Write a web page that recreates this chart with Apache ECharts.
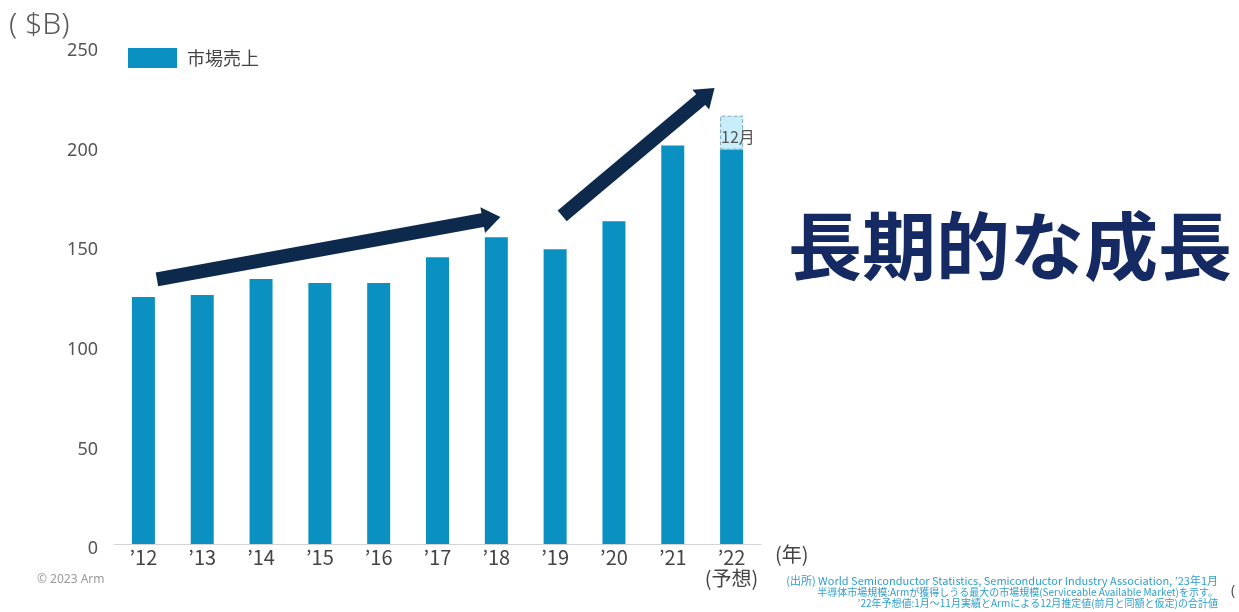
<!DOCTYPE html>
<html>
<head>
<meta charset="utf-8">
<script src="https://cdn.jsdelivr.net/npm/echarts@6/dist/echarts.min.js"></script>
<style>
  html, body { margin: 0; padding: 0; background: #ffffff; }
  #chart { width: 1239px; height: 612px; }
</style>
</head>
<body>
<div id="chart"></div>
<script>
// Semiconductor market size by year ($B)
const years = ['’12', '’13', '’14', '’15', '’16', '’17', '’18', '’19', '’20', '’21', '’22'];
const forecastTag = '(予想)';
const marketSales = [124, 125, 133, 131, 131, 144, 154, 148, 162, 200, 198];
// December estimate stacked on top of the 2022 Jan–Nov actuals
const decemberEstimate = [null, null, null, null, null, null, null, null, null, null, 17];
const yMax = 250;
const yStep = 50;

// Trend arrows, given as [category index, value] pairs
const trendArrows = [
  { from: [0.23, 132.8], to: [6.07, 164.2] },
  { from: [7.12, 164.7], to: [9.71, 228.9] }
];

const FONT = '"Noto Sans", "Noto Sans CJK JP", sans-serif';
const JP_FONT = '"Noto Sans CJK JP", "Noto Sans", sans-serif';
const BAR = '#0b90c2';
const NAVY = '#0d2a4d';
const FOOT = '#2f9fcc';

const chart = echarts.init(document.getElementById('chart'), null, { renderer: 'canvas' });

const categories = years.map((y, i) => i === years.length - 1 ? y + '\n' + forecastTag : y);

const staticGraphics = [
  { type: 'text', x: 9, y: 25,
    style: { text: '( $B)', font: '300 30px ' + FONT, fill: '#5a5a5a', verticalAlign: 'middle' } },
  { type: 'text', left: 775, top: 544,
    style: { text: '(年)', font: '20px ' + JP_FONT, fill: '#444444' } },
  { type: 'text', x: 37, y: 580,
    style: { text: '© 2023 Arm', font: '12px ' + FONT, fill: '#9a9a9a', verticalAlign: 'middle' } },
  { type: 'text', x: 1010, y: 246,
    style: { text: '長期的な成長', font: 'bold 74px ' + JP_FONT, fill: '#152a63',
             align: 'center', verticalAlign: 'middle' } },
  { type: 'text', x: 1218, y: 581,
    style: { text: '(出所) World Semiconductor Statistics, Semiconductor Industry Association, ’23年1月',
             font: '11px ' + JP_FONT, fill: FOOT, align: 'right', verticalAlign: 'middle' } },
  { type: 'text', x: 1218, y: 592,
    style: { text: '半導体市場規模:Armが獲得しうる最大の市場規模(Serviceable Available Market)を示す。',
             font: '10px ' + JP_FONT, fill: FOOT, align: 'right', verticalAlign: 'middle' } },
  { type: 'text', x: 1218, y: 603,
    style: { text: '’22年予想値:1月～11月実績とArmによる12月推定値(前月と同額と仮定)の合計値',
             font: '10px ' + JP_FONT, fill: FOOT, align: 'right', verticalAlign: 'middle' } },
  { type: 'text', x: 1231, y: 591,
    style: { text: '(', font: '14px ' + FONT, fill: '#555555', verticalAlign: 'middle' } }
];

chart.setOption({
  animation: false,
  backgroundColor: '#ffffff',
  textStyle: { fontFamily: FONT },
  grid: { left: 114, right: 478, top: 46, bottom: 68, containLabel: false },
  legend: {
    data: ['市場売上'],
    left: 123, top: 43,
    itemWidth: 49, itemHeight: 20,
    icon: 'rect',
    selectedMode: false,
    textStyle: { fontSize: 18, color: '#444444', fontFamily: JP_FONT, padding: [0, 0, 0, 5] }
  },
  xAxis: {
    type: 'category',
    data: categories,
    axisLine: { lineStyle: { color: '#d4d4d4', width: 1 } },
    axisTick: { show: false },
    axisLabel: {
      color: '#444444', fontSize: 20, lineHeight: 21, margin: 3,
      fontFamily: JP_FONT, interval: 0
    }
  },
  yAxis: {
    type: 'value',
    min: 0, max: yMax, interval: yStep,
    axisLine: { show: false },
    axisTick: { show: false },
    splitLine: { show: false },
    axisLabel: { color: '#555555', fontSize: 18, margin: 16, verticalAlign: 'top', lineHeight: 10 }
  },
  series: [
    {
      name: '市場売上',
      type: 'bar',
      stack: 'sales',
      barWidth: 23,
      data: marketSales,
      itemStyle: { color: BAR }
    },
    {
      name: '12月推定',
      type: 'bar',
      stack: 'sales',
      barWidth: 23,
      data: decemberEstimate,
      itemStyle: { color: '#c8eefb', borderColor: '#7fa9bb', borderWidth: 1, borderType: 'dashed' },
      label: {
        show: true, position: [1, 13], formatter: '12月',
        fontSize: 16, color: '#555555', fontFamily: JP_FONT
      }
    }
  ],
  graphic: staticGraphics
});

// Convert [category index, value] to pixels; indices may be fractional
function toPixel(pt) {
  const a = chart.convertToPixel({ gridIndex: 0 }, [0, 0]);
  const b = chart.convertToPixel({ gridIndex: 0 }, [years.length - 1, 0]);
  const step = (b[0] - a[0]) / (years.length - 1);
  const y = chart.convertToPixel({ yAxisIndex: 0 }, pt[1]);
  return [a[0] + pt[0] * step, y];
}

function arrowShapes(arrow) {
  const s = toPixel(arrow.from);
  const t = toPixel(arrow.to);
  const dx = t[0] - s[0], dy = t[1] - s[1];
  const len = Math.hypot(dx, dy);
  const ux = dx / len, uy = dy / len;
  const nx = -uy, ny = ux;
  const headLen = 18, headHalf = 13;
  const bx = t[0] - ux * headLen, by = t[1] - uy * headLen;
  return [
    { type: 'line', z: 10,
      shape: { x1: s[0], y1: s[1], x2: bx + ux * 1, y2: by + uy * 1 },
      style: { stroke: NAVY, lineWidth: 14, lineCap: 'butt' } },
    { type: 'polygon', z: 10,
      shape: { points: [[t[0], t[1]], [bx + nx * headHalf, by + ny * headHalf], [bx - nx * headHalf, by - ny * headHalf]] },
      style: { fill: NAVY } }
  ];
}

const arrowGraphics = trendArrows.flatMap(arrowShapes);
chart.setOption({ graphic: staticGraphics.concat(arrowGraphics) });
</script>
</body>
</html>
